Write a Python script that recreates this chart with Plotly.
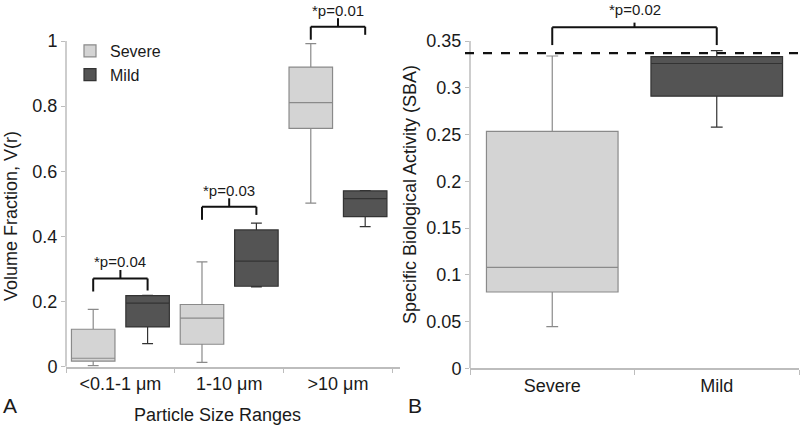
import plotly.graph_objects as go

# ---------------- data ----------------
size_ranges = ["<0.1-1 μm", "1-10 μm", ">10 μm"]

severe_lower = [0.003, 0.013, 0.502]
severe_q1 = [0.017, 0.069, 0.732]
severe_median = [0.026, 0.149, 0.811]
severe_q3 = [0.115, 0.191, 0.920]
severe_upper = [0.176, 0.322, 0.992]

mild_lower = [0.071, 0.245, 0.430]
mild_q1 = [0.122, 0.247, 0.461]
mild_median = [0.195, 0.324, 0.516]
mild_q3 = [0.218, 0.420, 0.540]
mild_upper = [0.219, 0.441, 0.541]

p_labels_a = ["*p=0.04", "*p=0.03", "*p=0.01"]
bracket_a = [0.271, 0.491, 1.044]

groups_b = ["Severe", "Mild"]
sba_lower = [0.0445, 0.258]
sba_q1 = [0.0816, 0.291]
sba_median = [0.108, 0.326]
sba_q3 = [0.2535, 0.3333]
sba_upper = [0.334, 0.3397]
sba_reference = 0.337
p_label_b = "*p=0.02"
bracket_b = 0.3647

# ---------------- style ----------------
FONT = "Liberation Sans, Arial, sans-serif"
SEV_FILL, SEV_LINE = "#d4d4d4", "#8a8a8a"
MILD_FILL, MILD_LINE = "#545454", "#333333"
AX = "#bdbdbd"
TXT = "#1a1a1a"

fig = go.Figure()

fig.add_trace(go.Box(
    x=size_ranges, q1=severe_q1, median=severe_median, q3=severe_q3,
    lowerfence=severe_lower, upperfence=severe_upper,
    name="Severe", fillcolor=SEV_FILL, line=dict(color=SEV_LINE, width=1.2),
    whiskerwidth=0.25, offsetgroup="s", alignmentgroup="A",
    xaxis="x", yaxis="y", hoverinfo="skip", boxpoints=False))
fig.add_trace(go.Box(
    x=size_ranges, q1=mild_q1, median=mild_median, q3=mild_q3,
    lowerfence=mild_lower, upperfence=mild_upper,
    name="Mild", fillcolor=MILD_FILL, line=dict(color=MILD_LINE, width=1.2),
    whiskerwidth=0.25, offsetgroup="m", alignmentgroup="A",
    xaxis="x", yaxis="y", hoverinfo="skip", boxpoints=False))

cols_b = [(SEV_FILL, SEV_LINE), (MILD_FILL, MILD_LINE)]
for i, g in enumerate(groups_b):
    fig.add_trace(go.Box(
        x=[g], q1=[sba_q1[i]], median=[sba_median[i]], q3=[sba_q3[i]],
        lowerfence=[sba_lower[i]], upperfence=[sba_upper[i]],
        name=g, fillcolor=cols_b[i][0], line=dict(color=cols_b[i][1], width=1.2),
        whiskerwidth=0.09, offsetgroup="b", alignmentgroup="B",
        xaxis="x2", yaxis="y2", hoverinfo="skip", boxpoints=False,
        showlegend=False))

# ---------------- axes ----------------
tick_font = dict(family=FONT, size=18, color=TXT)
left_bottom = (426 - 366.7) / 426
right_bottom = (426 - 368.3) / 426

common = dict(showgrid=False, zeroline=False, automargin=False, tickcolor=AX,
              tickfont=tick_font)

fig.update_layout(
    template="none",
    width=800, height=426,
    margin=dict(l=0, r=0, t=0, b=0, pad=0, autoexpand=False),
    paper_bgcolor="white", plot_bgcolor="white",
    boxmode="group", boxgap=0.0, boxgroupgap=0.2,
    font=dict(family=FONT, color=TXT),
    xaxis=dict(domain=[66 / 800, 400 / 800], range=[-0.5, 2.57],
               type="category", showline=True, linecolor=AX, linewidth=1.5,
               ticks="outside", tickson="boundaries", ticklen=5,
               anchor="y", **common),
    yaxis=dict(domain=[left_bottom, 1], range=[0, 366.7 / 325.7],
               tickvals=[0, 0.2, 0.4, 0.6, 0.8, 1],
               ticktext=["0", "0.2", "0.4", "0.6", "0.8", "1"],
               showline=False, ticks="outside", ticklen=4,
               anchor="x", **common),
    xaxis2=dict(domain=[470 / 800, 799 / 800], range=[-0.5, 1.5],
                type="category", showline=True, linecolor=AX, linewidth=1.5,
                ticks="outside", tickson="boundaries", ticklen=5,
                anchor="y2", **common),
    yaxis2=dict(domain=[right_bottom, 1], range=[0, 368.3 / 935],
                tickvals=[0, 0.05, 0.1, 0.15, 0.2, 0.25, 0.3, 0.35],
                ticktext=["0", "0.05", "0.1", "0.15", "0.2", "0.25", "0.3", "0.35"],
                showline=False, ticks="outside", ticklen=4,
                anchor="x2", **common),
    legend=dict(x=70 / 800, y=1 - 34 / 426, xanchor="left", yanchor="top",
                bgcolor="rgba(0,0,0,0)", font=dict(family=FONT, size=16, color=TXT),
                tracegroupgap=0, itemwidth=30),
    showlegend=True,
)

shapes = []
# y-axis lines (limited to labelled range)
shapes.append(dict(type="line", xref="x domain", yref="y", x0=0, x1=0, y0=0, y1=1,
                   line=dict(color=AX, width=1.5)))
shapes.append(dict(type="line", xref="x2 domain", yref="y2", x0=0, x1=0, y0=0, y1=0.35,
                   line=dict(color=AX, width=1.5)))

BR = dict(color="#111111", width=2)
leg_a = 0.04
for i, (lab, h) in enumerate(zip(p_labels_a, bracket_a)):
    xl, xr = i - 0.25, i + 0.25
    shapes.append(dict(type="line", xref="x", yref="y", x0=xl, x1=xr, y0=h, y1=h, line=BR))
    shapes.append(dict(type="line", xref="x", yref="y", x0=xl, x1=xl, y0=h, y1=h - leg_a, line=BR))
    shapes.append(dict(type="line", xref="x", yref="y", x0=xr, x1=xr, y0=h,
                       y1=h - 0.025 - (0.012 if i == 0 else 0), line=BR))
    shapes.append(dict(type="line", xref="x", yref="y", x0=i, x1=i, y0=h, y1=h + 0.026, line=BR))
    fig.add_annotation(x=i, y=h + 0.051, xref="x", yref="y", text=lab, showarrow=False,
                       xanchor="center", yanchor="middle",
                       font=dict(family=FONT, size=15, color=TXT))

# right bracket
shapes.append(dict(type="line", xref="x2", yref="y2", x0=0, x1=1, y0=bracket_b, y1=bracket_b, line=BR))
shapes.append(dict(type="line", xref="x2", yref="y2", x0=0, x1=0, y0=bracket_b, y1=bracket_b - 0.019, line=BR))
shapes.append(dict(type="line", xref="x2", yref="y2", x0=1, x1=1, y0=bracket_b, y1=bracket_b - 0.019, line=BR))
shapes.append(dict(type="line", xref="x2", yref="y2", x0=0.5, x1=0.5, y0=bracket_b,
                   y1=bracket_b + 0.005, line=BR))
fig.add_annotation(x=0.5, y=bracket_b + 0.0195, xref="x2", yref="y2", text=p_label_b, showarrow=False,
                   xanchor="center", yanchor="middle",
                   font=dict(family=FONT, size=15, color=TXT))

# dashed reference line
shapes.append(dict(type="line", xref="paper", yref="y2", x0=465 / 800, x1=1, y0=sba_reference,
                   y1=sba_reference, line=dict(color="#111111", width=2.2, dash="dash")))

fig.update_layout(shapes=shapes)

title_font = dict(family=FONT, size=18, color=TXT)
def label(px, py, text, font, angle=0):
    fig.add_annotation(x=px / 800, y=1 - py / 426, xref="paper", yref="paper",
                       xanchor="center", yanchor="middle",
                       text=text, textangle=angle, showarrow=False, font=font)

label(11, 216, "Volume Fraction, V(r)", title_font, -90)
label(410, 194, "Specific Biological Activity (SBA)", title_font, -90)
label(217, 415, "Particle Size Ranges", title_font)
label(10, 405, "A", dict(family=FONT, size=21, color=TXT))
label(415, 405, "B", dict(family=FONT, size=21, color=TXT))

fig.write_html("out.html", config={"displayModeBar": False},
               post_script="document.body.style.margin='0';document.body.style.overflow='hidden';")
